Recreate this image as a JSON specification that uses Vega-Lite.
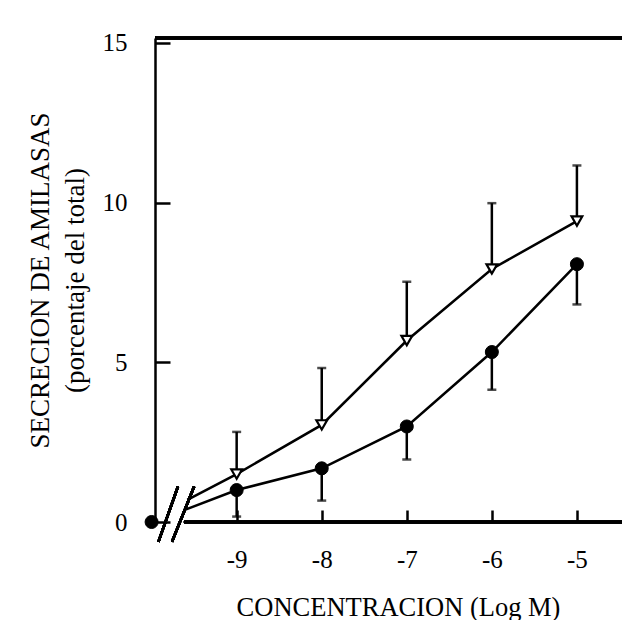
{
  "$schema": "https://vega.github.io/schema/vega-lite/v6.json",
  "width": 467,
  "height": 484,
  "autosize": {"type": "none"},
  "padding": {"left": 155, "top": 38, "right": 0, "bottom": 98},
  "background": "white",
  "config": {"view": {"stroke": null}, "font": "Liberation Serif"},
  "data": {
    "values": [
      {"conc": -9.58, "series": "tri", "kind": "start", "value": 0.69},
      {"conc": -9, "series": "tri", "kind": "pt", "value": 1.5, "err": 2.82},
      {"conc": -8, "series": "tri", "kind": "pt", "value": 3.04, "err": 4.82},
      {"conc": -7, "series": "tri", "kind": "pt", "value": 5.68, "err": 7.52},
      {"conc": -6, "series": "tri", "kind": "pt", "value": 7.92, "err": 9.98},
      {"conc": -5, "series": "tri", "kind": "pt", "value": 9.42, "err": 11.16},
      {"conc": -9.61, "series": "circ", "kind": "start", "value": 0.38},
      {"conc": -9, "series": "circ", "kind": "pt", "value": 1.0, "err": 0.17},
      {"conc": -8, "series": "circ", "kind": "pt", "value": 1.68, "err": 0.67},
      {"conc": -7, "series": "circ", "kind": "pt", "value": 2.99, "err": 1.96},
      {"conc": -6, "series": "circ", "kind": "pt", "value": 5.32, "err": 4.14},
      {"conc": -5, "series": "circ", "kind": "pt", "value": 8.07, "err": 6.81},
      {"conc": -10, "series": "ctrl", "kind": "ctrl", "value": 0}
    ]
  },
  "layer": [
    {
      "transform": [{"filter": "datum.kind !== 'ctrl'"}],
      "mark": {"type": "line", "color": "black", "strokeWidth": 2.5},
      "encoding": {
        "x": {
          "field": "conc", "type": "quantitative",
          "scale": {"domain": [-9.96, -4.47], "nice": false, "zero": false},
          "axis": {
            "values": [-9, -8, -7, -6, -5],
            "domain": false, "grid": false,
            "tickSize": -12, "tickWidth": 2.5, "tickColor": "black",
            "labelExpr": "'' + datum.value",
            "labelFont": "Liberation Serif", "labelFontSize": 25, "labelColor": "black",
            "labelBaseline": "alphabetic", "labelPadding": 57,
            "title": "CONCENTRACION (Log M)",
            "titleFont": "Liberation Serif", "titleFontSize": 26.5, "titleFontWeight": "normal", "titleColor": "black",
            "titleX": 243, "titleY": 93, "titleBaseline": "alphabetic", "titleAnchor": "middle"
          }
        },
        "y": {
          "field": "value", "type": "quantitative",
          "scale": {"domain": [0, 15.15], "nice": false},
          "axis": {
            "values": [0, 5, 10, 15],
            "grid": false,
            "domainColor": "black", "domainWidth": 2.5,
            "tickSize": -15, "tickWidth": 2.5, "tickColor": "black",
            "labelFont": "Liberation Serif", "labelFontSize": 25, "labelColor": "black",
            "labelPadding": 43,
            "title": ["SECRECION DE AMILASAS", "(porcentaje del total)"],
            "titleFont": "Liberation Serif", "titleFontSize": 27, "titleFontWeight": "normal", "titleColor": "black",
            "titleLineHeight": 35, "titleAngle": -90,
            "titleX": -115, "titleY": 242, "titleBaseline": "middle", "titleAlign": "center"
          }
        },
        "detail": {"field": "series"}
      }
    },
    {
      "transform": [{"filter": "datum.kind === 'pt'"}],
      "mark": {"type": "rule", "color": "black", "strokeWidth": 2.5},
      "encoding": {
        "x": {"field": "conc", "type": "quantitative"},
        "y": {"field": "value", "type": "quantitative"},
        "y2": {"field": "err"}
      }
    },
    {
      "transform": [{"filter": "datum.kind === 'pt'"}],
      "mark": {"type": "tick", "orient": "horizontal", "color": "black", "size": 9, "thickness": 2.5},
      "encoding": {
        "x": {"field": "conc", "type": "quantitative"},
        "y": {"field": "err", "type": "quantitative"}
      }
    },
    {
      "transform": [{"filter": "datum.kind === 'pt' && datum.series === 'tri'"}],
      "mark": {"type": "point", "shape": "triangle-down", "filled": true, "fill": "white", "stroke": "black", "strokeWidth": 2.2, "size": 115, "opacity": 1},
      "encoding": {
        "x": {"field": "conc", "type": "quantitative"},
        "y": {"field": "value", "type": "quantitative"}
      }
    },
    {
      "transform": [{"filter": "datum.series !== 'tri' && datum.kind !== 'start'"}],
      "mark": {"type": "point", "shape": "circle", "filled": true, "fill": "black", "stroke": "black", "strokeWidth": 1, "size": 170, "opacity": 1},
      "encoding": {
        "x": {"field": "conc", "type": "quantitative"},
        "y": {"field": "value", "type": "quantitative"}
      }
    },
    {
      "mark": {"type": "rule", "color": "black", "strokeWidth": 2.5},
      "encoding": {"x": {"datum": -9.62}, "x2": {"datum": -4.47}, "y": {"datum": 0}}
    },
    {
      "mark": {"type": "rule", "color": "black", "strokeWidth": 2.5},
      "encoding": {"x": {"datum": -9.96}, "x2": {"datum": -4.47}, "y": {"datum": 15.15}}
    },
    {
      "mark": {"type": "rule", "color": "black", "strokeWidth": 2.5},
      "encoding": {"x": {"datum": -9.92}, "x2": {"datum": -9.69}, "y": {"datum": -0.62}, "y2": {"datum": 1.11}}
    },
    {
      "mark": {"type": "rule", "color": "black", "strokeWidth": 2.5},
      "encoding": {"x": {"datum": -9.76}, "x2": {"datum": -9.5}, "y": {"datum": -0.62}, "y2": {"datum": 1.11}}
    }
  ]
}
